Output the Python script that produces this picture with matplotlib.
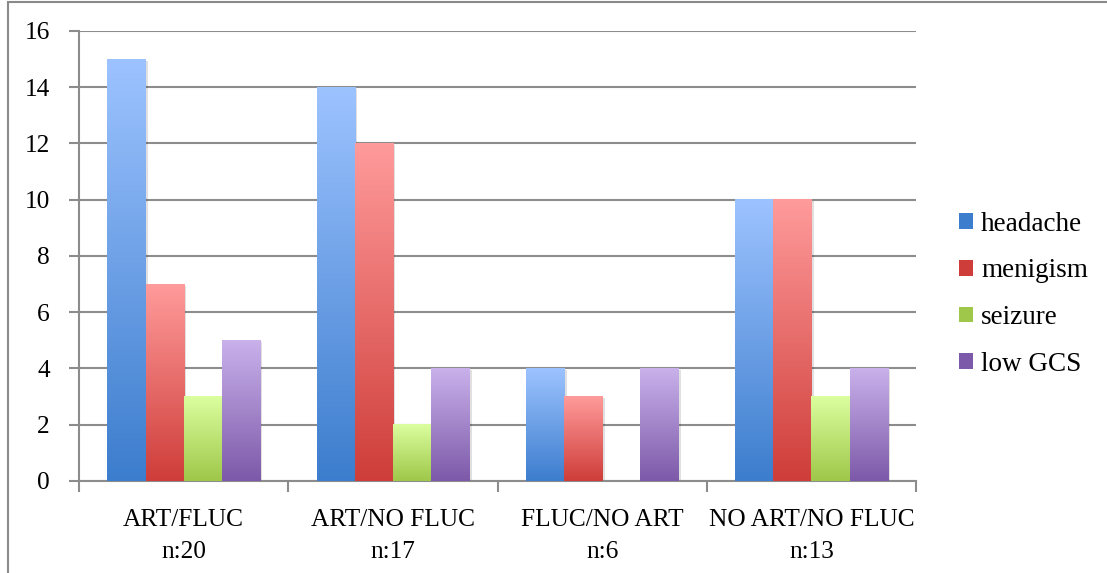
import numpy as np
import matplotlib.pyplot as plt
from matplotlib.colors import LinearSegmentedColormap
from matplotlib.patches import Rectangle, Patch

groups = ["ART/FLUC\nn:20", "ART/NO FLUC\nn:17", "FLUC/NO ART\nn:6", "NO ART/NO FLUC\nn:13"]
symptoms = ["headache", "menigism", "seizure", "low GCS"]

headache = [15, 14, 4, 10]
menigism = [7, 12, 3, 10]
seizure = [3, 2, 0, 3]
low_gcs = [5, 4, 4, 4]

# light (top) -> dark (bottom) colour for each series
top_colors = ["#9DC3FF", "#FF9B9B", "#DBFF9F", "#C9B1EB"]
bottom_colors = ["#3C7DCD", "#CE3D39", "#9FC749", "#7D59A9"]

FONT = "Liberation Serif"
FS = 18.3

fig = plt.figure(figsize=(11.07, 5.73), dpi=100)
ax = fig.add_axes([0.0714, 0.1606, 0.7561, 0.7853])

# outer frame around the chart area
frame = Rectangle((8 / 1107, -0.1), 1.2, 1 - 2 / 573 + 0.1, transform=fig.transFigure,
                  fill=False, edgecolor="#8a8a8a", linewidth=1.5, zorder=0)
fig.patches.append(frame)

series = [headache, menigism, seizure, low_gcs]
x = np.arange(len(groups))
width = 0.182
grad = np.linspace(1, 0, 256).reshape(-1, 1)

for i, values in enumerate(series):
    offset = (i - 1.5) * width
    bars = ax.bar(x + offset, values, width, color="none", edgecolor="none", zorder=3)
    cmap = LinearSegmentedColormap.from_list("s%d" % i, [bottom_colors[i], top_colors[i]])
    for b in bars:
        h = b.get_height()
        if h <= 0:
            continue
        x0 = b.get_x()
        # soft drop shadow
        ax.add_patch(Rectangle((x0 + 0.012, 0), b.get_width(), h - 0.05,
                               facecolor="#000000", alpha=0.12, edgecolor="none", zorder=2))
        ax.imshow(grad, cmap=cmap, aspect="auto", extent=(x0, x0 + b.get_width(), 0, h),
                  interpolation="bilinear", zorder=3)

ax.set_xlim(-0.5, 3.5)
ax.set_ylim(0, 16)
ax.set_yticks(range(0, 17, 2))
ax.yaxis.grid(True, color="#8c8c8c", linewidth=1.5)
ax.set_axisbelow(True)

ax.set_xticks(np.arange(-0.5, 4, 1))
ax.set_xticklabels([])
ax.set_xticks(x, minor=True)
ax.set_xticklabels(groups, minor=True, fontsize=FS, family=FONT, linespacing=1.6)
ax.tick_params(axis="x", which="minor", length=0, pad=20)
ax.tick_params(axis="x", which="major", length=8, width=1.5, color="#8c8c8c", direction="out")
ax.tick_params(axis="y", length=7, width=1.5, color="#8c8c8c", pad=14, labelsize=FS)
for lbl in ax.get_yticklabels():
    lbl.set_family(FONT)

for side in ["top", "right"]:
    ax.spines[side].set_visible(False)
for side in ["left", "bottom"]:
    ax.spines[side].set_color("#8c8c8c")
    ax.spines[side].set_linewidth(1.5)

handles = [Patch(facecolor=bottom_colors[i], edgecolor="none") for i in range(4)]
ax.legend(handles, symptoms, loc="center left", bbox_to_anchor=(1.022, 0.415),
          frameon=False, prop={"family": FONT, "size": 19.5},
          handlelength=0.52, handleheight=0.52, handletextpad=0.3, labelspacing=0.8)

fig.savefig("out.png", dpi=100)
